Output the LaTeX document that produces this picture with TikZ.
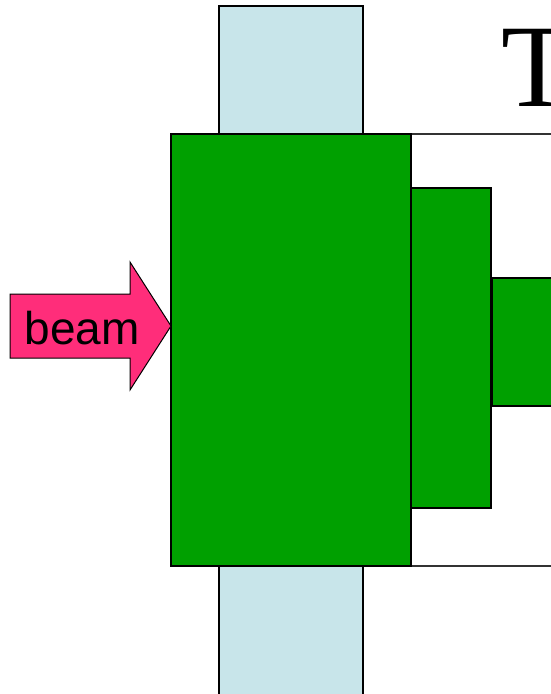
\documentclass[tikz,border=0pt]{standalone}
\usepackage{fontspec}
\newfontfamily\arialf{Liberation Sans}
\newfontfamily\timesf{Liberation Serif}
\definecolor{blockgreen}{RGB}{0,160,0}
\definecolor{barblue}{RGB}{200,229,234}
\definecolor{beampink}{RGB}{255,45,122}
\begin{document}
\begin{tikzpicture}[x=1pt,y=-1pt,
  greenblock/.style={fill=blockgreen,draw=black,line width=2pt},
  bluebar/.style={fill=barblue,draw=black,line width=2pt},
  frame/.style={draw=black!80,line width=1.5pt}]
\useasboundingbox (0,0) rectangle (551,694);
\clip (0,0) rectangle (551,694);
\fill[white] (0,0) rectangle (551,694);
% title letter
\node[font=\timesf\fontsize{118}{120}\selectfont,anchor=base west,inner sep=0pt] (title) at (501,106) {T};
% blue bars
\draw[bluebar] (219,6) rectangle (363,134);
\draw[bluebar] (219,566) rectangle (363,700);
% frame
\draw[frame] (411,134) rectangle (560,566);
% green blocks
\draw[greenblock] (171,134) rectangle (411,566);
\draw[greenblock] (411,188) rectangle (491,508);
\draw[greenblock] (492,278) rectangle (560,406);
% beam arrow
\draw[fill=beampink,draw=black,line width=1pt,line join=miter]
  (10,294) -- (130,294) -- (130,262) -- (171,326) -- (130,390) -- (130,358) -- (10,358) -- cycle;
\node[font=\arialf\fontsize{46}{48}\selectfont,anchor=base,inner sep=0pt] (beam) at (82,344) {beam};
\end{tikzpicture}
\end{document}
